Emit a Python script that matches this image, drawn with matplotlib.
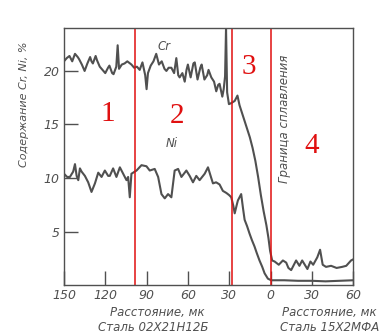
import matplotlib.pyplot as plt

# distance, um (negative = 02X21H12B side, positive = 15X2MFA side)
cr_x = [-150, -148, -146, -144, -142, -140, -139, -137, -135, -133, -131, -130,
        -129, -127, -126, -124, -122, -120, -118, -117, -115, -114, -112, -111,
        -110, -108, -106, -104, -101, -99, -97, -95, -93, -91, -90, -89, -87,
        -85, -83, -81, -79, -77, -75.6, -74, -72, -70, -68.4, -67, -66, -64,
        -62.3, -61, -60, -58, -56, -55, -53, -51, -50, -48, -46, -45, -43, -41,
        -39.4, -38, -37, -35, -34, -33, -32.3, -31.5, -30.2, -28.5, -26, -24,
        -22.5, -21, -19, -17, -15, -13, -11, -9, -7, -5, -3, -1.5, -0.3, 1.2,
        3, 6, 9, 11.4, 13, 15, 18.6, 21, 23, 26.8, 29, 31, 34, 36, 37.9, 40.3,
        44, 48, 52, 55, 58.5, 60]
cr_y = [20.9, 21.2, 21.4, 20.9, 21.6, 21.3, 21.1, 20.6, 20.0, 20.7, 21.3, 20.9,
        20.7, 21.4, 21.0, 20.4, 20.1, 19.8, 20.3, 20.5, 19.8, 19.7, 20.4, 22.4,
        20.2, 20.6, 20.7, 20.9, 20.6, 20.3, 20.4, 20.1, 20.8, 19.6, 18.3, 19.8,
        20.5, 20.9, 21.6, 20.6, 20.9, 20.2, 20.0, 20.3, 20.3, 19.8, 21.2, 19.6,
        19.4, 19.8, 19.0, 20.1, 20.6, 19.4, 20.7, 20.8, 19.2, 20.3, 20.6, 19.2,
        19.6, 20.1, 19.4, 19.0, 18.1, 18.7, 18.8, 17.6, 18.3, 19.5, 24.0, 18.0,
        16.9, 17.0, 17.2, 17.7, 16.8, 16.2, 15.4, 14.6, 13.8, 12.8, 11.6, 10.1,
        8.4, 6.9, 5.6, 4.4, 3.2, 2.3, 2.2, 1.9, 2.3, 2.1, 1.6, 1.4, 2.3, 1.8,
        2.3, 1.5, 2.2, 1.9, 2.6, 3.3, 1.9, 1.7, 1.8, 1.6, 1.7, 1.8, 2.3, 2.4]

ni_x = [-150, -147.7, -145.7, -143.3, -142, -140.8, -139.6, -138.4, -137.2,
        -134.8, -132.4, -130, -127.5, -125.1, -122.7, -120.3, -117.9, -116.7,
        -114.3, -111.9, -109.4, -107, -104.6, -103.4, -102.2, -101, -97.3,
        -93.7, -90.1, -87.7, -84.1, -81.6, -79.2, -76.8, -74.4, -72, -69.6,
        -67.1, -64.7, -61.1, -58.7, -56.3, -53.9, -51.5, -47.8, -45.4, -43.5,
        -41.8, -39.5, -37, -34.6, -32, -30, -28.5, -27, -26, -24.5, -23.7,
        -21.3, -20, -18.8, -17, -15.2, -13.5, -11.6, -10, -8, -6, -4.3, -1.9,
        0.5, 10, 20, 30, 40, 50, 60]
ni_y = [10.4, 10.1, 10.1, 10.6, 11.3, 10.2, 9.8, 10.9, 10.6, 10.2, 9.6, 8.7,
        9.5, 10.5, 10.1, 10.7, 10.2, 10.2, 10.9, 10.1, 11.0, 10.4, 9.8, 10.1,
        8.2, 10.4, 10.7, 11.2, 11.1, 10.7, 10.85, 10.1, 8.5, 8.1, 8.5, 8.2,
        10.7, 10.85, 10.1, 10.7, 10.2, 9.6, 10.2, 9.8, 10.4, 11.0, 10.2, 9.5,
        9.6, 9.4, 8.8, 8.6, 8.4, 8.2, 7.4, 6.7, 7.5, 7.9, 8.5, 7.2, 6.1, 5.5,
        4.8, 4.2, 3.6, 3.0, 2.3, 1.7, 1.1, 0.6, 0.45, 0.45, 0.4, 0.4, 0.35,
        0.4, 0.45]

zone_lines = [-98.6, -28.3, 0]
zone_labels = ['1', '2', '3', '4']
zone_pos = [(-118, 16.0), (-68, 15.8), (-16, 20.4), (30, 13.0)]

xticks = [-150, -120, -90, -60, -30, 0, 30, 60]
xticklabels = ['150', '120', '90', '60', '30', '0', '30', '60']
yticks = [5, 10, 15, 20]

ink = '#505050'

fig = plt.figure(figsize=(3.83, 3.35), dpi=100)
ax = fig.add_axes([0.167, 0.149, 0.755, 0.767])

ax.plot(cr_x, cr_y, color=ink, lw=1.5)
ax.plot(ni_x, ni_y, color=ink, lw=1.5)

for xv in zone_lines:
    ax.axvline(xv, color='#e01010', lw=1.1)

for lab, (xv, yv) in zip(zone_labels, zone_pos):
    ax.text(xv, yv, lab, color='#e01010', fontsize=21, family='Liberation Serif',
            ha='center', va='center')

ax.text(-77, 22.3, 'Cr', color=ink, fontsize=8.5, style='italic', ha='center', va='center')
ax.text(-72, 13.2, 'Ni', color=ink, fontsize=8.5, style='italic', ha='center', va='center')
ax.text(10, 15.5, 'Граница сплавления', color=ink, fontsize=8.5, style='italic',
        rotation=90, ha='center', va='center')

ax.set_xlim(-150, 60)
ax.set_ylim(0, 24)
ax.set_xticks(xticks)
ax.set_xticklabels(xticklabels)
ax.set_yticks(yticks)
ax.tick_params(direction='in', length=10, width=1, colors=ink, labelsize=9, pad=3)
for lb in ax.get_xticklabels() + ax.get_yticklabels():
    lb.set_style('italic')
for s in ax.spines.values():
    s.set_color(ink)
    s.set_linewidth(1)

fig.text(0.063, 0.69, 'Содержание Cr, Ni, %', rotation=90, color=ink, fontsize=8,
         style='italic', ha='center', va='center')
fig.text(0.41, 0.066, 'Расстояние, мк', color=ink, fontsize=8.5, style='italic', ha='center', va='center')
fig.text(0.40, 0.021, 'Сталь 02Х21Н12Б', color=ink, fontsize=8.5, style='italic', ha='center', va='center')
fig.text(0.86, 0.066, 'Расстояние, мк', color=ink, fontsize=8.5, style='italic', ha='center', va='center')
fig.text(0.86, 0.021, 'Сталь 15Х2МФА', color=ink, fontsize=8.5, style='italic', ha='center', va='center')

fig.savefig('out.png', dpi=100)
